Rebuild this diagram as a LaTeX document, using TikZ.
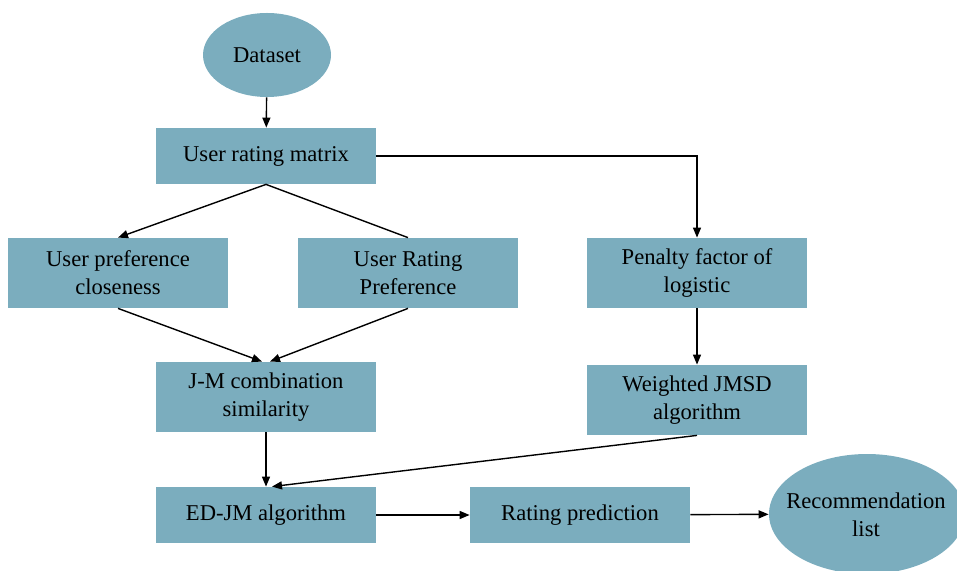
\documentclass[tikz,border=0pt]{standalone}
\usepackage{fontspec}
\setmainfont{Liberation Serif}
\definecolor{flowBlue}{RGB}{123, 173, 190}
\usepackage{tikz}
\usetikzlibrary{positioning, calc, shapes.geometric, arrows.meta}

\begin{document}
\begin{tikzpicture}[
    x=0.5pt, y=-0.5pt,
    box/.style={rectangle, fill=flowBlue, minimum width=110pt,
                minimum height=28pt, inner sep=0pt, align=center,
                font=\fontsize{11.3}{14}\selectfont},
    tallbox/.style={box, minimum height=35pt},
    oval/.style={ellipse, fill=flowBlue, inner sep=0pt, align=center,
                 font=\fontsize{11.3}{14}\selectfont},
    arrow/.style={-{Triangle[length=5pt,width=4pt]}, line width=0.7pt},
    link/.style={line width=0.7pt}
  ]
    \useasboundingbox (0,0) rectangle (957,571);

    % Top: input data
    \node[oval, minimum width=64pt, minimum height=42pt] (DATA) at (267,55) {Dataset};
    \node[box] (URM) at (266,156) {User rating matrix};

    % Middle row: preference measures and penalty
    \node[tallbox] (UPC) at (118,273) {User preference\\closeness};
    \node[tallbox] (URP) at (408,273) {User Rating\\Preference};
    \node[tallbox] (PEN) at (697,273) {Penalty factor of\\logistic};

    % Similarity
    \node[tallbox] (JM) at (266,397) {J-M combination\\similarity};
    \node[tallbox] (WJM) at (697,400) {Weighted JMSD\\algorithm};

    % Bottom row: output
    \node[box] (EDJM) at (266,515) {ED-JM algorithm};
    \node[box] (RP) at (580,515) {Rating prediction};
    \node[oval, minimum width=98pt, minimum height=60pt] (REC) at (867,514) {};
    \node[font=\fontsize{11.3}{14}\selectfont, align=center] (RECtext) at (866,515)
      {Recommendation\\list};

    \draw[arrow] (DATA) -- (URM);
    \draw[arrow] (URM.south) -- (UPC.north);
    \draw[link] (URM.south) -- (URP.north);
    \draw[arrow] (URM.east) -| (PEN.north);
    \draw[arrow] (UPC.south) -- ([xshift=-2pt]JM.north);
    \draw[arrow] (URP.south) -- ([xshift=2pt]JM.north);
    \draw[arrow] (PEN) -- (WJM);
    \draw[arrow] (JM.south) -- (EDJM.north);
    \draw[arrow] (WJM.south) -- ([xshift=3pt]EDJM.north);
    \draw[arrow] (EDJM) -- (RP);
    \draw[arrow] (RP) -- (REC);
  \end{tikzpicture}
\end{document}
